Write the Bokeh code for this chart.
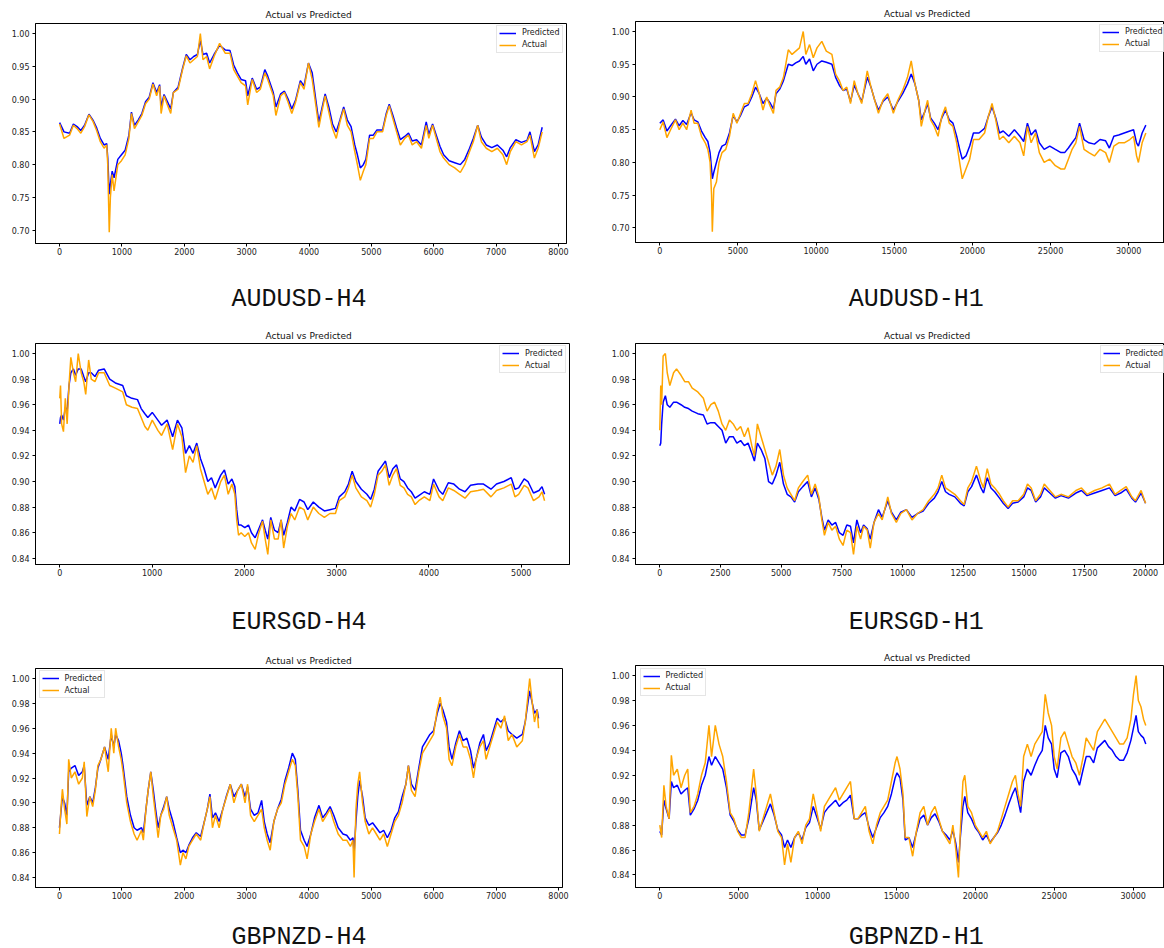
from bokeh.plotting import figure
from bokeh.models import Range1d, FixedTicker, NumeralTickFormatter, Legend, LegendItem
from bokeh.layouts import column, row
from bokeh.embed import file_html
from bokeh.resources import INLINE
from bokeh.core.properties import value

# ---------------- data ----------------
TITLE = "Actual vs Predicted"
LABEL_PRED = "Predicted"
LABEL_ACT = "Actual"

# AUDUSD-H4
audusd_h4_x = [0, 70, 160, 220, 280, 340, 400, 470, 535, 594,
               653, 713, 755, 772, 796, 814, 843, 873, 933, 992,
               1051, 1111, 1152, 1200, 1259, 1319, 1378, 1437, 1497, 1556,
               1604, 1628, 1675, 1734, 1782, 1824, 1900, 1972, 2031, 2091,
               2150, 2210, 2257, 2299, 2358, 2406, 2477, 2566, 2655, 2733,
               2792, 2851, 2911, 2982, 3017, 3089, 3160, 3219, 3291, 3338,
               3427, 3469, 3546, 3606, 3665, 3724, 3784, 3861, 3920, 3991,
               4051, 4110, 4158, 4205, 4259, 4318, 4377, 4437, 4496, 4556,
               4615, 4675, 4734, 4776, 4823, 4871, 4912, 4972, 5031, 5090,
               5180, 5239, 5287, 5346, 5405, 5465, 5536, 5596, 5655, 5726,
               5803, 5880, 5922, 5982, 6041, 6100, 6159, 6248, 6337, 6427,
               6498, 6575, 6635, 6706, 6765, 6843, 6932, 7021, 7110, 7170,
               7229, 7318, 7407, 7496, 7544, 7615, 7675, 7740]
audusd_h4_actual = [0.862, 0.840, 0.845, 0.860, 0.855, 0.848, 0.858, 0.876, 0.866, 0.852,
                    0.835, 0.825, 0.830, 0.800, 0.697, 0.750, 0.785, 0.760, 0.800, 0.806,
                    0.815, 0.840, 0.878, 0.855, 0.865, 0.875, 0.893, 0.900, 0.923, 0.905,
                    0.920, 0.878, 0.905, 0.890, 0.878, 0.910, 0.915, 0.945, 0.966, 0.955,
                    0.960, 0.965, 1.000, 0.960, 0.965, 0.946, 0.965, 0.985, 0.970, 0.970,
                    0.945, 0.935, 0.925, 0.920, 0.891, 0.930, 0.910, 0.915, 0.940, 0.930,
                    0.905, 0.875, 0.905, 0.910, 0.895, 0.878, 0.895, 0.925, 0.915, 0.955,
                    0.930, 0.890, 0.857, 0.880, 0.905, 0.880, 0.855, 0.840, 0.865, 0.885,
                    0.860, 0.850, 0.820, 0.800, 0.776, 0.790, 0.800, 0.840, 0.840, 0.850,
                    0.850, 0.875, 0.890, 0.870, 0.850, 0.830, 0.840, 0.845, 0.830, 0.835,
                    0.825, 0.860, 0.840, 0.860, 0.840, 0.820, 0.810, 0.800, 0.795, 0.788,
                    0.800, 0.820, 0.835, 0.860, 0.835, 0.825, 0.820, 0.825, 0.815, 0.800,
                    0.820, 0.835, 0.830, 0.835, 0.845, 0.810, 0.825, 0.850]
audusd_h4_pred = [0.864, 0.850, 0.848, 0.862, 0.858, 0.852, 0.860, 0.877, 0.868, 0.856,
                  0.840, 0.830, 0.832, 0.810, 0.755, 0.770, 0.790, 0.780, 0.808, 0.815,
                  0.822, 0.845, 0.880, 0.860, 0.868, 0.878, 0.896, 0.903, 0.925, 0.910,
                  0.922, 0.888, 0.907, 0.895, 0.885, 0.910, 0.918, 0.947, 0.968, 0.960,
                  0.965, 0.968, 0.990, 0.968, 0.970, 0.955, 0.968, 0.982, 0.975, 0.974,
                  0.952, 0.940, 0.930, 0.928, 0.905, 0.932, 0.915, 0.918, 0.945, 0.935,
                  0.910, 0.888, 0.908, 0.912, 0.900, 0.885, 0.898, 0.928, 0.920, 0.955,
                  0.940, 0.898, 0.865, 0.885, 0.908, 0.888, 0.862, 0.850, 0.868, 0.888,
                  0.868, 0.858, 0.830, 0.815, 0.795, 0.800, 0.808, 0.845, 0.845, 0.853,
                  0.853, 0.878, 0.892, 0.875, 0.856, 0.838, 0.843, 0.848, 0.836, 0.838,
                  0.830, 0.865, 0.846, 0.862, 0.845, 0.828, 0.815, 0.806, 0.803, 0.800,
                  0.808, 0.825, 0.840, 0.860, 0.842, 0.830, 0.826, 0.830, 0.822, 0.812,
                  0.826, 0.838, 0.834, 0.837, 0.850, 0.820, 0.830, 0.857]

# AUDUSD-H1
audusd_h1_x = [0, 214, 453, 691, 1001, 1239, 1477, 1716, 2002, 2192,
               2431, 2669, 2907, 3074, 3217, 3312, 3360, 3455, 3622, 3789,
               3980, 4218, 4456, 4695, 4933, 5171, 5409, 5648, 5886, 6124,
               6363, 6601, 6839, 7077, 7268, 7435, 7673, 7912, 8221, 8460,
               8698, 8936, 9175, 9342, 9580, 9818, 10057, 10366, 10652, 11010,
               11248, 11486, 11724, 11963, 12201, 12439, 12678, 12916, 13273, 13512,
               13750, 13988, 14274, 14584, 14941, 15227, 15537, 15847, 16085, 16324,
               16562, 16729, 16967, 17134, 17325, 17563, 17801, 18039, 18277, 18516,
               18754, 18992, 19183, 19350, 19588, 19826, 20065, 20422, 20779, 21017,
               21256, 21494, 21732, 21970, 22328, 22685, 23043, 23281, 23519, 23757,
               24043, 24282, 24591, 24949, 25306, 25664, 25902, 26140, 26378, 26617,
               26855, 27141, 27451, 27808, 28166, 28523, 28762, 29048, 29358, 29715,
               30073, 30311, 30502, 30621, 30859, 31097]
audusd_h1_actual = [0.850, 0.862, 0.838, 0.850, 0.865, 0.850, 0.860, 0.850, 0.880, 0.860,
                    0.860, 0.840, 0.830, 0.820, 0.800, 0.750, 0.694, 0.760, 0.770, 0.800,
                    0.815, 0.820, 0.840, 0.875, 0.860, 0.875, 0.890, 0.890, 0.905, 0.925,
                    0.905, 0.880, 0.900, 0.885, 0.875, 0.910, 0.915, 0.930, 0.972, 0.965,
                    0.970, 0.975, 1.000, 0.965, 0.980, 0.960, 0.975, 0.985, 0.970, 0.965,
                    0.935, 0.925, 0.910, 0.915, 0.890, 0.925, 0.905, 0.890, 0.940, 0.915,
                    0.895, 0.875, 0.895, 0.905, 0.875, 0.895, 0.910, 0.930, 0.955, 0.920,
                    0.895, 0.855, 0.880, 0.895, 0.865, 0.855, 0.840, 0.870, 0.885, 0.860,
                    0.855, 0.830, 0.800, 0.775, 0.790, 0.805, 0.835, 0.835, 0.845, 0.870,
                    0.890, 0.865, 0.835, 0.840, 0.830, 0.840, 0.830, 0.810, 0.855, 0.830,
                    0.845, 0.815, 0.800, 0.805, 0.795, 0.790, 0.790, 0.805, 0.820, 0.830,
                    0.855, 0.820, 0.815, 0.810, 0.820, 0.815, 0.800, 0.825, 0.830, 0.830,
                    0.835, 0.840, 0.810, 0.800, 0.830, 0.845]
audusd_h1_pred = [0.860, 0.865, 0.848, 0.856, 0.866, 0.856, 0.864, 0.858, 0.876, 0.865,
                  0.862, 0.848, 0.838, 0.832, 0.815, 0.790, 0.775, 0.785, 0.800, 0.815,
                  0.825, 0.828, 0.845, 0.872, 0.862, 0.872, 0.885, 0.888, 0.900, 0.915,
                  0.905, 0.890, 0.898, 0.890, 0.882, 0.905, 0.912, 0.925, 0.950, 0.948,
                  0.952, 0.955, 0.962, 0.950, 0.958, 0.940, 0.950, 0.955, 0.953, 0.950,
                  0.930, 0.918, 0.910, 0.912, 0.893, 0.918, 0.905, 0.893, 0.930, 0.915,
                  0.895, 0.880, 0.893, 0.900, 0.880, 0.893, 0.905, 0.920, 0.935, 0.920,
                  0.895, 0.865, 0.878, 0.890, 0.868, 0.860, 0.850, 0.868, 0.880, 0.865,
                  0.860, 0.840, 0.820, 0.805, 0.810, 0.825, 0.845, 0.845, 0.852, 0.870,
                  0.885, 0.868, 0.845, 0.848, 0.840, 0.850, 0.840, 0.832, 0.860, 0.842,
                  0.850, 0.830, 0.820, 0.825, 0.820, 0.815, 0.815, 0.822, 0.830, 0.838,
                  0.860, 0.835, 0.830, 0.828, 0.835, 0.833, 0.822, 0.840, 0.842, 0.845,
                  0.848, 0.850, 0.830, 0.825, 0.845, 0.857]

# EURSGD-H4
eursgd_h4_x = [0, 8, 20, 40, 60, 80, 100, 120, 148, 172,
               200, 232, 260, 281, 313, 341, 381, 421, 481, 541,
               602, 682, 722, 782, 842, 882, 922, 954, 1002, 1063,
               1103, 1163, 1223, 1275, 1323, 1363, 1404, 1444, 1484, 1524,
               1564, 1604, 1644, 1684, 1744, 1784, 1825, 1865, 1897, 1917,
               1937, 1965, 2005, 2045, 2077, 2117, 2157, 2197, 2226, 2254,
               2286, 2326, 2366, 2398, 2426, 2466, 2506, 2546, 2598, 2647,
               2687, 2747, 2807, 2867, 2927, 2987, 3028, 3088, 3128, 3168,
               3208, 3268, 3328, 3368, 3408, 3449, 3489, 3529, 3569, 3609,
               3649, 3689, 3729, 3769, 3809, 3850, 3890, 3950, 4010, 4050,
               4110, 4150, 4210, 4270, 4331, 4391, 4451, 4531, 4591, 4672,
               4732, 4812, 4892, 4932, 4972, 5032, 5073, 5133, 5193, 5225,
               5253]
eursgd_h4_actual = [0.965, 0.975, 0.945, 0.939, 0.965, 0.945, 0.975, 0.997, 0.985, 0.978,
                    1.000, 0.985, 0.978, 0.968, 0.995, 0.980, 0.978, 0.985, 0.985, 0.975,
                    0.973, 0.970, 0.960, 0.958, 0.957, 0.950, 0.943, 0.940, 0.948, 0.940,
                    0.936, 0.945, 0.925, 0.945, 0.935, 0.907, 0.920, 0.915, 0.928, 0.910,
                    0.900, 0.890, 0.895, 0.886, 0.900, 0.905, 0.890, 0.898, 0.890, 0.870,
                    0.858, 0.860, 0.857, 0.860, 0.852, 0.847, 0.860, 0.869, 0.855, 0.843,
                    0.870, 0.855, 0.855, 0.870, 0.848, 0.865, 0.875, 0.870, 0.880, 0.878,
                    0.870, 0.880, 0.875, 0.872, 0.875, 0.875, 0.885, 0.888, 0.895, 0.905,
                    0.895, 0.888, 0.885, 0.880, 0.890, 0.905, 0.908, 0.913, 0.897, 0.905,
                    0.910, 0.897, 0.895, 0.890, 0.888, 0.882, 0.885, 0.888, 0.885, 0.898,
                    0.888, 0.885, 0.895, 0.893, 0.890, 0.887, 0.892, 0.893, 0.894, 0.888,
                    0.893, 0.895, 0.898, 0.888, 0.890, 0.897, 0.895, 0.885, 0.888, 0.892,
                    0.885]
eursgd_h4_pred = [0.945, 0.950, 0.952, 0.948, 0.958, 0.955, 0.975, 0.985, 0.988, 0.983,
                  0.988, 0.988, 0.982, 0.978, 0.985, 0.985, 0.982, 0.987, 0.988, 0.980,
                  0.977, 0.975, 0.967, 0.965, 0.964, 0.957, 0.953, 0.950, 0.954, 0.948,
                  0.944, 0.948, 0.935, 0.948, 0.942, 0.922, 0.928, 0.922, 0.930, 0.918,
                  0.910, 0.900, 0.903, 0.895, 0.905, 0.909, 0.898, 0.902, 0.896, 0.878,
                  0.866, 0.866, 0.864, 0.866, 0.860, 0.856, 0.863, 0.870, 0.862, 0.855,
                  0.872, 0.862, 0.860, 0.870, 0.858, 0.868, 0.880, 0.877, 0.886, 0.884,
                  0.878, 0.884, 0.880, 0.877, 0.878, 0.879, 0.888, 0.892, 0.898, 0.908,
                  0.900, 0.894, 0.890, 0.886, 0.894, 0.908, 0.912, 0.916, 0.903, 0.910,
                  0.913, 0.902, 0.900, 0.895, 0.892, 0.887, 0.889, 0.892, 0.890, 0.902,
                  0.893, 0.890, 0.899, 0.898, 0.894, 0.892, 0.897, 0.898, 0.898, 0.894,
                  0.898, 0.900, 0.903, 0.894, 0.895, 0.902, 0.900, 0.891, 0.893, 0.896,
                  0.890]

# EURSGD-H1
eursgd_h1_x = [0, 40, 77, 138, 230, 307, 414, 568, 690, 874,
               1028, 1181, 1335, 1565, 1795, 1948, 2102, 2255, 2409, 2562,
               2715, 2869, 3022, 3175, 3329, 3482, 3636, 3789, 3896, 4019,
               4172, 4326, 4479, 4633, 4786, 4940, 5093, 5246, 5400, 5553,
               5707, 5891, 6090, 6243, 6397, 6550, 6673, 6780, 6934, 7087,
               7241, 7394, 7547, 7701, 7854, 7977, 8115, 8269, 8391, 8544,
               8667, 8821, 9005, 9158, 9388, 9541, 9741, 9925, 10155, 10385,
               10615, 10845, 11075, 11306, 11459, 11612, 11766, 11919, 12149, 12379,
               12533, 12686, 12840, 13039, 13223, 13331, 13484, 13637, 13791, 13990,
               14143, 14343, 14527, 14757, 14987, 15141, 15294, 15478, 15677, 15831,
               16061, 16291, 16521, 16828, 17135, 17365, 17595, 17902, 18209, 18516,
               18746, 18976, 19206, 19436, 19589, 19819, 20003]
eursgd_h1_actual = [0.940, 0.975, 0.960, 0.998, 1.000, 0.985, 0.975, 0.985, 0.988, 0.983,
                    0.978, 0.978, 0.973, 0.970, 0.965, 0.955, 0.960, 0.962, 0.955, 0.945,
                    0.940, 0.948, 0.945, 0.940, 0.943, 0.935, 0.942, 0.928, 0.920, 0.945,
                    0.935, 0.925, 0.915, 0.905, 0.912, 0.925, 0.905, 0.895, 0.890, 0.885,
                    0.895, 0.900, 0.905, 0.890, 0.898, 0.888, 0.870, 0.858, 0.868, 0.862,
                    0.865, 0.855, 0.850, 0.862, 0.860, 0.843, 0.865, 0.855, 0.865, 0.862,
                    0.848, 0.868, 0.875, 0.870, 0.888, 0.875, 0.868, 0.875, 0.878, 0.870,
                    0.875, 0.878, 0.885, 0.890, 0.895, 0.905, 0.895, 0.893, 0.890, 0.885,
                    0.882, 0.895, 0.900, 0.912, 0.900, 0.895, 0.910, 0.898, 0.895, 0.890,
                    0.885, 0.880, 0.885, 0.885, 0.890, 0.898, 0.895, 0.885, 0.890, 0.898,
                    0.893, 0.888, 0.890, 0.888, 0.893, 0.895, 0.890, 0.893, 0.895, 0.898,
                    0.890, 0.893, 0.896, 0.888, 0.885, 0.893, 0.883]
eursgd_h1_pred = [0.928, 0.930, 0.945, 0.962, 0.967, 0.960, 0.958, 0.962, 0.962, 0.960,
                  0.958, 0.957, 0.955, 0.953, 0.952, 0.945, 0.946, 0.946, 0.943, 0.940,
                  0.930, 0.935, 0.935, 0.930, 0.932, 0.928, 0.930, 0.922, 0.916, 0.930,
                  0.925, 0.918, 0.900, 0.898, 0.905, 0.915, 0.898, 0.890, 0.888, 0.884,
                  0.892, 0.896, 0.900, 0.888, 0.895, 0.886, 0.872, 0.862, 0.870, 0.866,
                  0.868, 0.860, 0.858, 0.866, 0.865, 0.852, 0.870, 0.860, 0.866, 0.863,
                  0.855, 0.868, 0.878, 0.872, 0.885, 0.876, 0.870, 0.876, 0.878, 0.872,
                  0.875, 0.877, 0.883, 0.887, 0.892, 0.900, 0.892, 0.890, 0.888, 0.883,
                  0.881, 0.892, 0.896, 0.905, 0.895, 0.891, 0.903, 0.895, 0.892, 0.887,
                  0.883, 0.879, 0.883, 0.884, 0.888, 0.895, 0.893, 0.884, 0.888, 0.895,
                  0.891, 0.887, 0.889, 0.887, 0.891, 0.893, 0.889, 0.891, 0.893, 0.895,
                  0.889, 0.891, 0.894, 0.887, 0.884, 0.891, 0.883]

# GBPNZD-H4
gbpnzd_h4_x = [0, 24, 47, 83, 119, 148, 190, 249, 308, 367,
               397, 439, 486, 533, 575, 616, 664, 723, 782, 830,
               871, 901, 948, 990, 1019, 1079, 1138, 1197, 1244, 1316,
               1345, 1387, 1422, 1464, 1505, 1541, 1582, 1624, 1671, 1719,
               1760, 1819, 1879, 1938, 1979, 2027, 2074, 2133, 2193, 2264,
               2323, 2370, 2412, 2453, 2501, 2560, 2619, 2679, 2738, 2797,
               2856, 2916, 2975, 3016, 3064, 3123, 3182, 3241, 3283, 3330,
               3378, 3437, 3496, 3556, 3615, 3674, 3733, 3781, 3822, 3864,
               3923, 3970, 4030, 4089, 4160, 4219, 4279, 4338, 4397, 4468,
               4545, 4605, 4664, 4705, 4723, 4753, 4782, 4812, 4859, 4901,
               4960, 5019, 5079, 5138, 5197, 5256, 5316, 5375, 5434, 5493,
               5553, 5594, 5642, 5701, 5760, 5819, 5879, 5938, 5997, 6056,
               6104, 6145, 6205, 6246, 6293, 6353, 6412, 6471, 6531, 6590,
               6637, 6679, 6738, 6797, 6839, 6898, 6957, 7017, 7076, 7135,
               7194, 7254, 7331, 7420, 7467, 7508, 7538, 7580, 7615, 7657,
               7680]
gbpnzd_h4_actual = [0.875, 0.895, 0.911, 0.895, 0.883, 0.935, 0.920, 0.925, 0.915, 0.920,
                    0.933, 0.889, 0.905, 0.897, 0.910, 0.930, 0.935, 0.945, 0.925, 0.960,
                    0.940, 0.960, 0.945, 0.935, 0.925, 0.900, 0.885, 0.875, 0.870, 0.878,
                    0.870, 0.895, 0.910, 0.925, 0.905, 0.890, 0.872, 0.890, 0.895, 0.905,
                    0.890, 0.880, 0.870, 0.850, 0.860, 0.855, 0.865, 0.870, 0.875, 0.870,
                    0.885, 0.895, 0.905, 0.880, 0.890, 0.880, 0.895, 0.905, 0.915, 0.900,
                    0.910, 0.915, 0.900, 0.915, 0.890, 0.885, 0.890, 0.895, 0.880, 0.870,
                    0.862, 0.885, 0.895, 0.900, 0.915, 0.925, 0.935, 0.930, 0.905, 0.870,
                    0.865, 0.855, 0.875, 0.885, 0.895, 0.885, 0.890, 0.895, 0.885, 0.875,
                    0.870, 0.870, 0.865, 0.870, 0.840, 0.895, 0.915, 0.925, 0.900, 0.885,
                    0.875, 0.880, 0.875, 0.870, 0.875, 0.865, 0.875, 0.885, 0.890, 0.900,
                    0.915, 0.930, 0.910, 0.905, 0.925, 0.940, 0.945, 0.950, 0.955, 0.975,
                    0.985, 0.970, 0.960, 0.935, 0.930, 0.945, 0.955, 0.945, 0.945, 0.935,
                    0.920, 0.935, 0.945, 0.950, 0.935, 0.945, 0.955, 0.965, 0.960, 0.970,
                    0.950, 0.955, 0.945, 0.950, 0.965, 0.985, 1.000, 0.980, 0.965, 0.975,
                    0.960]
gbpnzd_h4_pred = [0.880, 0.893, 0.905, 0.900, 0.890, 0.925, 0.928, 0.930, 0.922, 0.925,
                  0.930, 0.898, 0.905, 0.900, 0.912, 0.928, 0.935, 0.945, 0.935, 0.955,
                  0.945, 0.955, 0.950, 0.940, 0.930, 0.905, 0.890, 0.880, 0.878, 0.880,
                  0.876, 0.895, 0.910, 0.925, 0.910, 0.895, 0.880, 0.890, 0.897, 0.905,
                  0.895, 0.885, 0.872, 0.860, 0.862, 0.860, 0.866, 0.872, 0.876, 0.873,
                  0.885, 0.895, 0.907, 0.888, 0.892, 0.885, 0.895, 0.906, 0.915, 0.905,
                  0.910, 0.915, 0.905, 0.913, 0.895, 0.890, 0.892, 0.902, 0.885, 0.875,
                  0.868, 0.885, 0.895, 0.903, 0.918, 0.928, 0.940, 0.935, 0.910, 0.878,
                  0.870, 0.865, 0.875, 0.888, 0.898, 0.888, 0.892, 0.897, 0.890, 0.880,
                  0.875, 0.874, 0.870, 0.872, 0.860, 0.885, 0.905, 0.918, 0.905, 0.888,
                  0.882, 0.884, 0.880, 0.876, 0.878, 0.872, 0.878, 0.888, 0.893, 0.905,
                  0.915, 0.930, 0.915, 0.910, 0.928, 0.945, 0.950, 0.955, 0.958, 0.972,
                  0.980, 0.975, 0.965, 0.945, 0.935, 0.948, 0.958, 0.950, 0.952, 0.942,
                  0.928, 0.935, 0.948, 0.955, 0.942, 0.948, 0.958, 0.968, 0.965, 0.968,
                  0.958, 0.955, 0.952, 0.955, 0.965, 0.980, 0.990, 0.980, 0.972, 0.975,
                  0.968]

# GBPNZD-H1
gbpnzd_h1_x = [0, 118, 260, 401, 590, 732, 873, 1109, 1345, 1581,
               1770, 1935, 2171, 2407, 2643, 2879, 3115, 3280, 3516, 3752,
               3988, 4224, 4460, 4696, 4932, 5168, 5405, 5641, 5947, 6112,
               6301, 6537, 6773, 7009, 7245, 7481, 7717, 7906, 8095, 8307,
               8543, 8779, 9015, 9251, 9487, 9723, 9959, 10195, 10431, 10667,
               10903, 11139, 11375, 11611, 11847, 12083, 12319, 12555, 12791, 13027,
               13263, 13499, 13735, 13971, 14207, 14443, 14679, 14915, 15033, 15222,
               15411, 15552, 15788, 16024, 16260, 16496, 16732, 16968, 17204, 17440,
               17676, 17912, 18148, 18384, 18573, 18762, 18927, 19045, 19210, 19328,
               19517, 19753, 19989, 20225, 20461, 20697, 20933, 21169, 21405, 21641,
               21877, 22113, 22349, 22538, 22703, 22868, 23057, 23293, 23529, 23765,
               24001, 24237, 24426, 24615, 24827, 24992, 25181, 25417, 25653, 25889,
               26125, 26361, 26597, 26833, 27022, 27258, 27494, 27730, 27966, 28202,
               28438, 28674, 28910, 29146, 29382, 29618, 29854, 30019, 30184, 30326,
               30491, 30656, 30798]
gbpnzd_h1_actual = [0.880, 0.870, 0.912, 0.895, 0.885, 0.936, 0.920, 0.925, 0.910, 0.920,
                    0.925, 0.890, 0.895, 0.905, 0.920, 0.930, 0.960, 0.935, 0.960, 0.945,
                    0.935, 0.915, 0.890, 0.885, 0.875, 0.870, 0.870, 0.890, 0.925, 0.905,
                    0.875, 0.885, 0.895, 0.905, 0.890, 0.875, 0.870, 0.848, 0.865, 0.850,
                    0.870, 0.875, 0.865, 0.880, 0.885, 0.905, 0.890, 0.875, 0.895, 0.900,
                    0.905, 0.910, 0.900, 0.905, 0.910, 0.915, 0.885, 0.885, 0.890, 0.895,
                    0.875, 0.865, 0.880, 0.890, 0.895, 0.900, 0.915, 0.930, 0.935, 0.925,
                    0.905, 0.870, 0.870, 0.855, 0.875, 0.890, 0.895, 0.880, 0.890, 0.895,
                    0.885, 0.875, 0.870, 0.865, 0.880, 0.860, 0.838, 0.875, 0.915, 0.920,
                    0.895, 0.890, 0.880, 0.875, 0.870, 0.875, 0.865, 0.870, 0.875, 0.885,
                    0.895, 0.905, 0.915, 0.920, 0.905, 0.895, 0.935, 0.945, 0.935, 0.945,
                    0.950, 0.955, 0.985, 0.970, 0.960, 0.935, 0.925, 0.950, 0.955, 0.945,
                    0.935, 0.930, 0.920, 0.935, 0.950, 0.945, 0.940, 0.955, 0.960, 0.965,
                    0.960, 0.955, 0.950, 0.945, 0.945, 0.950, 0.965, 0.985, 1.000, 0.980,
                    0.975, 0.965, 0.960]
gbpnzd_h1_pred = [0.875, 0.872, 0.900, 0.893, 0.885, 0.915, 0.910, 0.912, 0.905, 0.908,
                  0.910, 0.888, 0.893, 0.900, 0.912, 0.920, 0.935, 0.928, 0.935, 0.930,
                  0.925, 0.910, 0.888, 0.883, 0.876, 0.872, 0.872, 0.885, 0.910, 0.900,
                  0.876, 0.883, 0.890, 0.897, 0.888, 0.876, 0.872, 0.862, 0.868, 0.862,
                  0.870, 0.874, 0.868, 0.878, 0.882, 0.895, 0.886, 0.877, 0.890, 0.894,
                  0.897, 0.900, 0.895, 0.898, 0.900, 0.904, 0.885, 0.885, 0.888, 0.890,
                  0.878, 0.870, 0.878, 0.886, 0.890, 0.895, 0.905, 0.918, 0.922, 0.918,
                  0.900, 0.868, 0.870, 0.862, 0.874, 0.885, 0.888, 0.880, 0.886, 0.889,
                  0.883, 0.875, 0.872, 0.868, 0.876, 0.865, 0.850, 0.870, 0.895, 0.903,
                  0.890, 0.885, 0.878, 0.874, 0.868, 0.872, 0.866, 0.870, 0.874, 0.880,
                  0.888, 0.897, 0.905, 0.910, 0.900, 0.890, 0.915, 0.925, 0.920, 0.928,
                  0.935, 0.940, 0.960, 0.950, 0.945, 0.925, 0.918, 0.938, 0.940, 0.935,
                  0.925, 0.920, 0.912, 0.925, 0.935, 0.935, 0.930, 0.942, 0.945, 0.948,
                  0.943, 0.940, 0.935, 0.932, 0.932, 0.938, 0.948, 0.958, 0.968, 0.955,
                  0.952, 0.950, 0.945]

# tick values
xticks_h4_8000 = [0, 1000, 2000, 3000, 4000, 5000, 6000, 7000, 8000]
xticks_h4_5000 = [0, 1000, 2000, 3000, 4000, 5000]
xticks_h1_30000 = [0, 5000, 10000, 15000, 20000, 25000, 30000]
xticks_h1_20000 = [0, 2500, 5000, 7500, 10000, 12500, 15000, 17500, 20000]
yticks_top = [0.70, 0.75, 0.80, 0.85, 0.90, 0.95, 1.00]
yticks_low = [0.84, 0.86, 0.88, 0.90, 0.92, 0.94, 0.96, 0.98, 1.00]

captions = ["AUDUSD-H4", "AUDUSD-H1", "EURSGD-H4", "EURSGD-H1", "GBPNZD-H4", "GBPNZD-H1"]

SANS = "DejaVu Sans"
MONO = "Liberation Mono"
INK = "#111111"


def panel(x, act, pred, xlim, ylim, xticks, yticks, fw, fh, bl, br, bt, bb, leg_xy):
    p = figure(frame_width=fw, frame_height=fh,
               min_border_left=bl, min_border_right=br,
               min_border_top=bt, min_border_bottom=bb,
               x_range=Range1d(*xlim), y_range=Range1d(*ylim),
               output_backend="svg", toolbar_location=None, title=None)
    p.background_fill_color = "white"
    p.border_fill_color = "white"
    p.outline_line_color = "black"
    p.outline_line_width = 1
    p.grid.visible = False

    rp = p.line(x, pred, line_color="#0000ff", line_width=1.5)
    ra = p.line(x, act, line_color="#ffa500", line_width=1.5)

    for ax in (p.xaxis[0], p.yaxis[0]):
        ax.axis_line_color = "black"
        ax.major_tick_line_color = "black"
        ax.major_tick_out = 3
        ax.major_tick_in = 0
        ax.minor_tick_line_color = None
        ax.major_label_text_font = SANS
        ax.major_label_text_font_size = "8px"
        ax.major_label_text_color = "#222222"
    p.xaxis[0].major_label_standoff = 1
    p.yaxis[0].major_label_standoff = 3
    p.xaxis[0].ticker = FixedTicker(ticks=xticks)
    p.yaxis[0].ticker = FixedTicker(ticks=yticks)
    p.xaxis[0].formatter = NumeralTickFormatter(format="0")
    p.yaxis[0].formatter = NumeralTickFormatter(format="0.00")

    legend = Legend(items=[LegendItem(label=LABEL_PRED, renderers=[rp]),
                           LegendItem(label=LABEL_ACT, renderers=[ra])],
                    location=leg_xy, orientation="vertical",
                    label_text_font=SANS, label_text_font_size="8px",
                    label_text_color="#222222",
                    glyph_width=17, glyph_height=10, label_height=10,
                    label_standoff=6, spacing=2, padding=2, margin=0,
                    border_line_color="#cccccc", border_line_width=1,
                    background_fill_color="white", background_fill_alpha=0.85)
    p.add_layout(legend)
    return p


def strip(w, h, items):
    """A plain text band: pixel-sized ranges, no axes; items = (x, y, text, kind)."""
    s = figure(width=w, height=h, x_range=Range1d(0, w), y_range=Range1d(0, h),
               min_border=0, x_axis_location=None, y_axis_location=None,
               output_backend="svg", toolbar_location=None, title=None)
    s.outline_line_color = None
    s.background_fill_color = "white"
    s.border_fill_color = "white"
    s.grid.visible = False
    for (tx, ty, txt, kind) in items:
        if kind == "title":
            s.text(x=[tx], y=[ty], text=[txt], text_font=value(SANS),
                   text_font_size="9px", text_align="center",
                   text_baseline="middle", text_color=INK)
        else:
            s.text(x=[tx], y=[ty], text=[txt], text_font=value(MONO),
                   text_font_size="25px", text_align="center",
                   text_baseline="alphabetic", text_color=INK)
    return s


WL, WR = 580, 584

f1 = panel(audusd_h4_x, audusd_h4_actual, audusd_h4_pred, (-387, 8130), (0.6797, 1.0153),
           xticks_h4_8000, yticks_top, 531, 220, 35, 14, 3, 23, (461, 190.3))
f2 = panel(audusd_h1_x, audusd_h1_actual, audusd_h1_pred, (-1555, 32290), (0.6777, 1.0153),
           xticks_h1_30000, yticks_top, 529, 221, 55, 0, 3, 23, (464, 190.3))
f3 = panel(eursgd_h4_x, eursgd_h4_actual, eursgd_h4_pred, (-263, 5523), (0.83515, 1.00785),
           xticks_h4_5000, yticks_low, 534, 221, 35, 11, 3, 23, (464, 190.6))
f4 = panel(eursgd_h1_x, eursgd_h1_actual, eursgd_h1_pred, (-1000, 20783), (0.83515, 1.00785),
           xticks_h1_20000, yticks_low, 529, 221, 55, 0, 3, 23, (464.5, 190.6))
f5 = panel(gbpnzd_h4_x, gbpnzd_h4_actual, gbpnzd_h4_pred, (-384, 8064), (0.832, 1.008),
           xticks_h4_8000, yticks_low, 527, 219, 35, 18, 3, 23, (3.5, 189))
f6 = panel(gbpnzd_h1_x, gbpnzd_h1_actual, gbpnzd_h1_pred, (-1540, 31984), (0.8299, 1.0081),
           xticks_h1_30000, yticks_low, 529, 222, 55, 0, 3, 23, (4.5, 191.3))

left = column(
    strip(WL, 20, [(300.5, 6, TITLE, "title")]),
    f1,
    strip(WL, 74, [(290, 40.7, captions[0], "cap"), (300.5, 5, TITLE, "title")]),
    f3,
    strip(WL, 78, [(290, 43.3, captions[2], "cap"), (300.5, 5, TITLE, "title")]),
    f5,
    strip(WL, 38, [(290, 11, captions[4], "cap")]),
)
right = column(
    strip(WR, 18, [(322, 5, TITLE, "title")]),
    f2,
    strip(WR, 75, [(310, 41, captions[1], "cap"), (322, 5, TITLE, "title")]),
    f4,
    strip(WR, 75, [(310, 40.3, captions[3], "cap"), (322, 5, TITLE, "title")]),
    f6,
    strip(WR, 38, [(310, 11, captions[5], "cap")]),
)

layout = row(left, right)
open("out.html", "w").write(file_html(layout, INLINE))
